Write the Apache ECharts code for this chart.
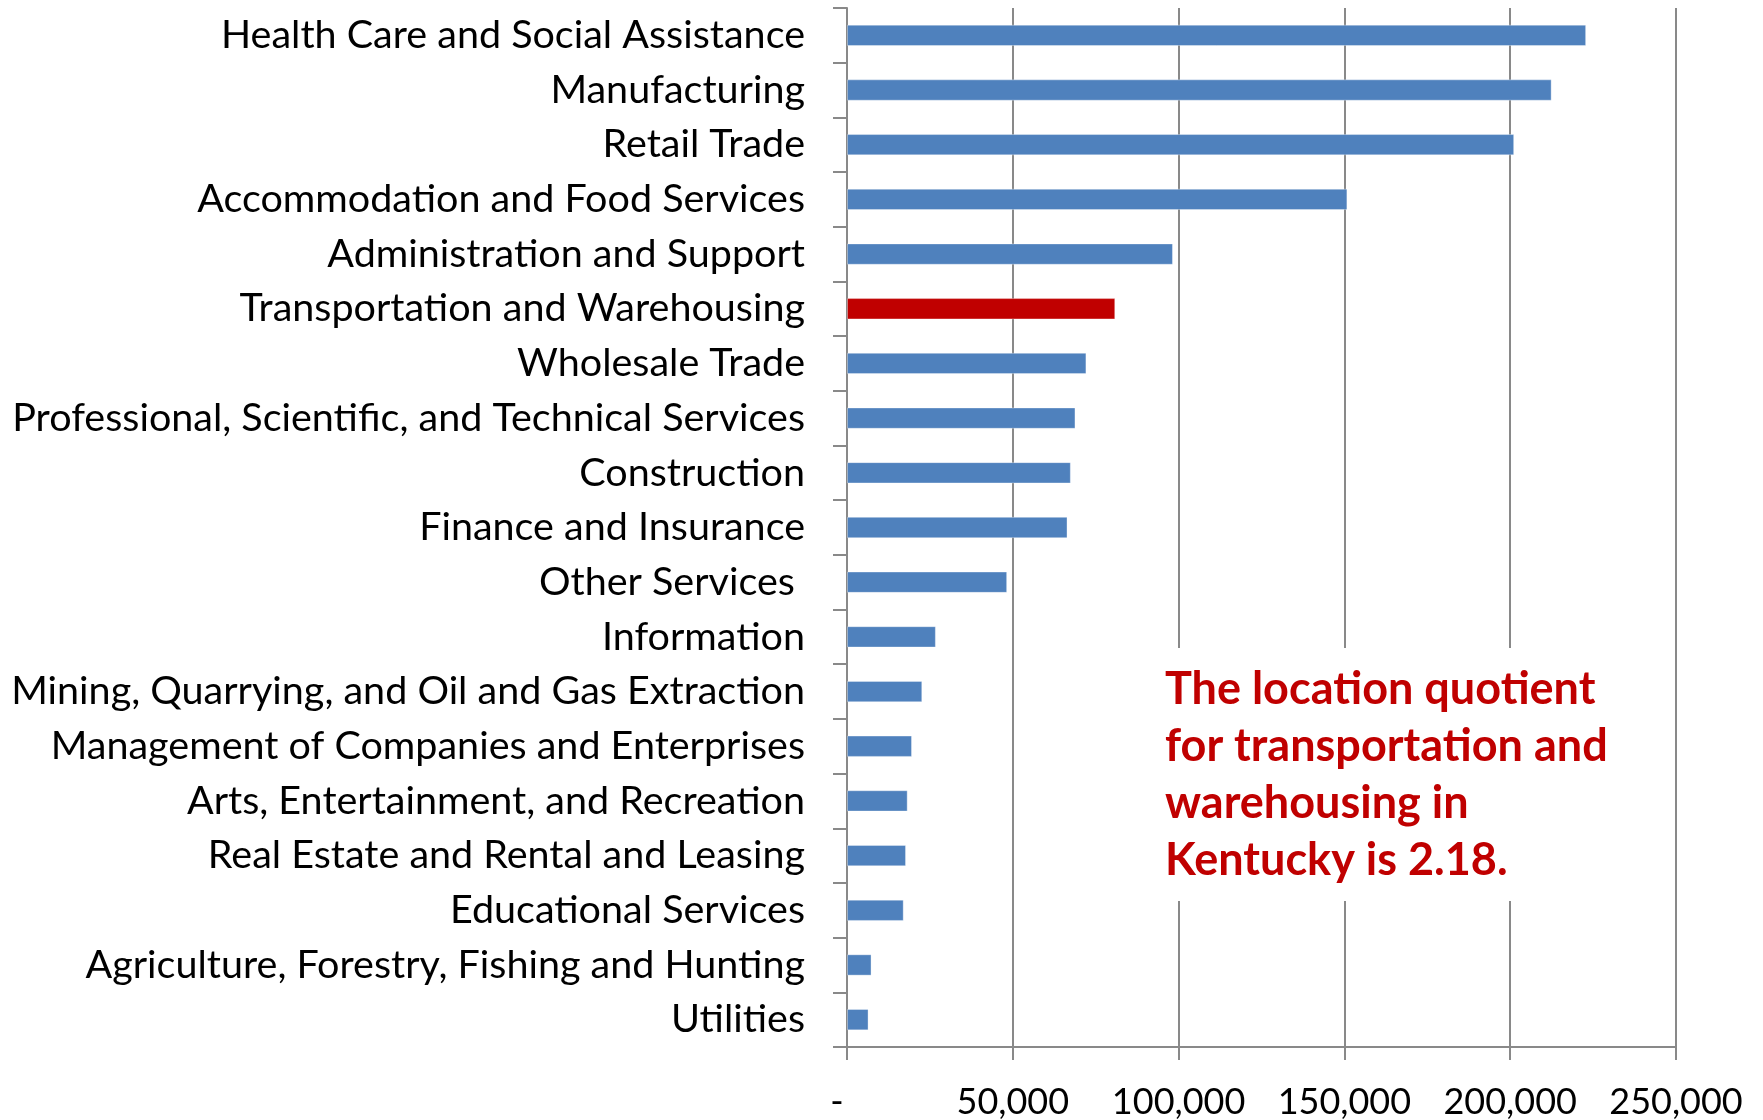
<!DOCTYPE html>
<html>
<head>
<meta charset="utf-8">
<script src="https://cdn.jsdelivr.net/npm/echarts@6/dist/echarts.min.js"></script>
<style>
  html, body { margin: 0; padding: 0; background: #fff; }
  #chart { width: 1763px; height: 1120px; }
</style>
</head>
<body>
<div id="chart"></div>
<script>
// industries, top to bottom
var categories = [
  'Health Care and Social Assistance',
  'Manufacturing',
  'Retail Trade',
  'Accommodation and Food Services',
  'Administration and Support',
  'Transportation and Warehousing',
  'Wholesale Trade',
  'Professional, Scientific, and Technical Services',
  'Construction',
  'Finance and Insurance',
  'Other Services ',
  'Information',
  'Mining, Quarrying, and Oil and Gas Extraction',
  'Management of Companies and Enterprises',
  'Arts, Entertainment, and Recreation',
  'Real Estate and Rental and Leasing',
  'Educational Services',
  'Agriculture, Forestry, Fishing and Hunting',
  'Utilities'
]
// employment
var employment = [
  222900, 212500, 201200, 150900, 98300, 80900, 72200, 68900, 67500, 66500,
  48300, 26800, 22700, 19600, 18300, 17800, 17100, 7400, 6500
]
var highlighted = 'Transportation and Warehousing'
var xTicks = [0, 50000, 100000, 150000, 200000, 250000]

var note = [
  'The location quotient',
  'for transportation and',
  'warehousing in',
  'Kentucky is 2.18.'
]

var gray = '#898989'
var blue = '#4F81BD'
var red = '#C00000'

var chart = echarts.init(document.getElementById('chart'))

chart.setOption({
  animation: false,
  grid: {
    left: 847,
    right: 87,
    top: 8,
    bottom: 73,
    outerBoundsMode: 'none'
  },
  xAxis: {
    type: 'value',
    min: xTicks[0],
    max: xTicks[xTicks.length - 1],
    interval: xTicks[1] - xTicks[0],
    axisLine: { show: true, lineStyle: { color: gray, width: 2 } },
    axisTick: { show: true, length: 13, lineStyle: { color: gray, width: 2 } },
    splitLine: { show: true, lineStyle: { color: gray, width: 2 } },
    axisLabel: {
      margin: 37,
      fontFamily: 'Lato',
      fontSize: 36,
      color: '#000',
      formatter: function (v) {
        if (v === 0) return '{z|-}'
        return v.toLocaleString('en-US')
      },
      rich: {
        z: { fontFamily: 'Lato', fontSize: 36, color: '#000', padding: [0, 20, 0, 0] }
      }
    }
  },
  yAxis: {
    type: 'category',
    inverse: true,
    data: categories,
    axisLine: { show: true, lineStyle: { color: gray, width: 2 } },
    axisTick: { show: true, length: 14, lineStyle: { color: gray, width: 2 } },
    splitLine: { show: false },
    axisLabel: {
      margin: 42,
      fontFamily: 'Lato',
      fontSize: 39.5,
      color: '#000'
    }
  },
  series: [{
    type: 'bar',
    barWidth: '39%',
    data: employment.map(function (v, i) {
      return {
        value: v,
        itemStyle: { color: categories[i] === highlighted ? red : blue }
      }
    }),
    itemStyle: {
      borderColor: 'rgba(255,255,255,0.35)',
      borderWidth: 1
    }
  }],
  graphic: [{
    type: 'rect',
    left: 1150,
    top: 648,
    shape: { width: 480, height: 253 },
    style: { fill: '#fff' },
    z: 100
  }, {
    type: 'text',
    left: 1165,
    top: 661,
    z: 101,
    style: {
      text: note.join('\n'),
      fill: red,
      fontFamily: 'Lato',
      fontWeight: 'bold',
      fontSize: 45,
      lineHeight: 57
    }
  }]
})
</script>
</body>
</html>
